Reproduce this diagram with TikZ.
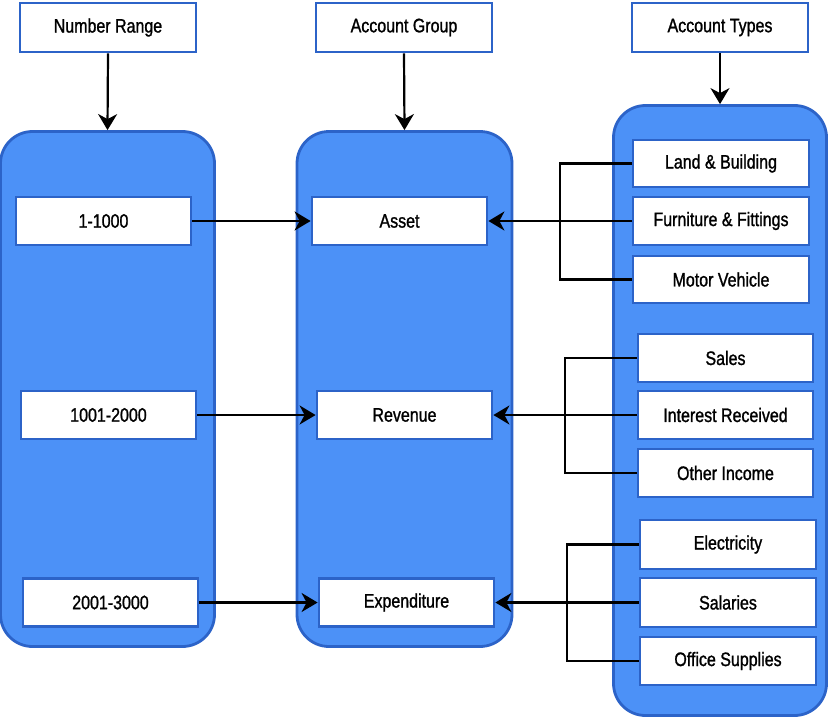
\documentclass[tikz,border=0pt]{standalone}
\usepackage{fontspec}
\setmainfont{Liberation Sans}[FakeStretch=0.82,FakeBold=1.2]
\usetikzlibrary{arrows.meta}
\definecolor{boxblue}{RGB}{44,99,200}
\definecolor{fillblue}{RGB}{76,145,247}
\tikzset{
  container/.style={draw=boxblue, fill=fillblue, line width=2.8pt, rounded corners=32pt, inner sep=0pt},
  itembox/.style={draw=boxblue, fill=white, line width=2.8pt, inner sep=0pt, font=\fontsize{19.5}{22}\selectfont},
  conn/.style={draw=black, line width=2.2pt},
  arr/.style={conn, -{Stealth[length=16pt,width=19pt,inset=5pt]}},
}
\begin{document}
\begin{tikzpicture}[x=1pt,y=-1pt]
\useasboundingbox (0,0) rectangle (829,717);
% containers
\node[container, minimum width=214pt, minimum height=515pt] (cL) at (107.5,389) {};
\node[container, minimum width=215pt, minimum height=515pt] (cM) at (404.5,389) {};
\node[container, minimum width=213pt, minimum height=610pt] (cR) at (720,410.5) {};
% headers
\node[itembox, minimum width=176pt, minimum height=49pt] (hL) at (108,27.5) {Number Range};
\node[itembox, minimum width=176pt, minimum height=49pt] (hM) at (404,27.5) {Account Group};
\node[itembox, minimum width=176pt, minimum height=49pt] (hR) at (720,27.5) {Account Types};
% left items
\node[itembox, minimum width=175pt, minimum height=48pt] (n1) at (103.5,221) {1-1000};
\node[itembox, minimum width=175pt, minimum height=48pt] (n2) at (108.5,415) {1001-2000};
\node[itembox, minimum width=175pt, minimum height=48pt] (n3) at (110.5,602.5) {2001-3000};
% middle items
\node[itembox, minimum width=175pt, minimum height=48pt] (g1) at (399.5,221) {Asset};
\node[itembox, minimum width=175pt, minimum height=48pt] (g2) at (404.5,415) {Revenue};
\node[itembox, minimum width=175pt, minimum height=48pt] (g3) at (406.5,602.5) {Expenditure};
% right items
\node[itembox, minimum width=176pt, minimum height=47pt] (t1) at (721,163.5) {Land \& Building};
\node[itembox, minimum width=176pt, minimum height=48pt] (t2) at (721,221) {Furniture \& Fittings};
\node[itembox, minimum width=176pt, minimum height=47pt] (t3) at (721,279.5) {Motor Vehicle};
\node[itembox, minimum width=175pt, minimum height=48pt] (t4) at (725.5,358) {Sales};
\node[itembox, minimum width=175pt, minimum height=48pt] (t5) at (725.5,415) {Interest Received};
\node[itembox, minimum width=175pt, minimum height=48pt] (t6) at (725.5,473) {Other Income};
\node[itembox, minimum width=176pt, minimum height=49pt] (t7) at (728,544.5) {Electricity};
\node[itembox, minimum width=176pt, minimum height=49pt] (t8) at (728,602.5) {Salaries};
\node[itembox, minimum width=176pt, minimum height=48pt] (t9) at (728,661) {Office Supplies};
% header arrows
\draw[arr] (hL.south) -- (cL.north);
\draw[arr] (hM.south) -- (cM.north);
\draw[arr] (hR.south) -- (cR.north);
% left-to-middle arrows
\draw[arr] (n1.east) -- (g1.west);
\draw[arr] (n2.east) -- (g2.west);
\draw[arr] (n3.east) -- (g3.west);
% brackets
\coordinate (b1) at (560,0);
\coordinate (b2) at (565,0);
\coordinate (b3) at (567,0);
\draw[conn] (t1.west) -- (t1.west -| b1) -- (t3.west -| b1) -- (t3.west);
\draw[arr] (t2.west) -- (g1.east);
\draw[conn] (t4.west) -- (t4.west -| b2) -- (t6.west -| b2) -- (t6.west);
\draw[arr] (t5.west) -- (g2.east);
\draw[conn] (t7.west) -- (t7.west -| b3) -- (t9.west -| b3) -- (t9.west);
\draw[arr] (t8.west) -- (g3.east);
\end{tikzpicture}
\end{document}
